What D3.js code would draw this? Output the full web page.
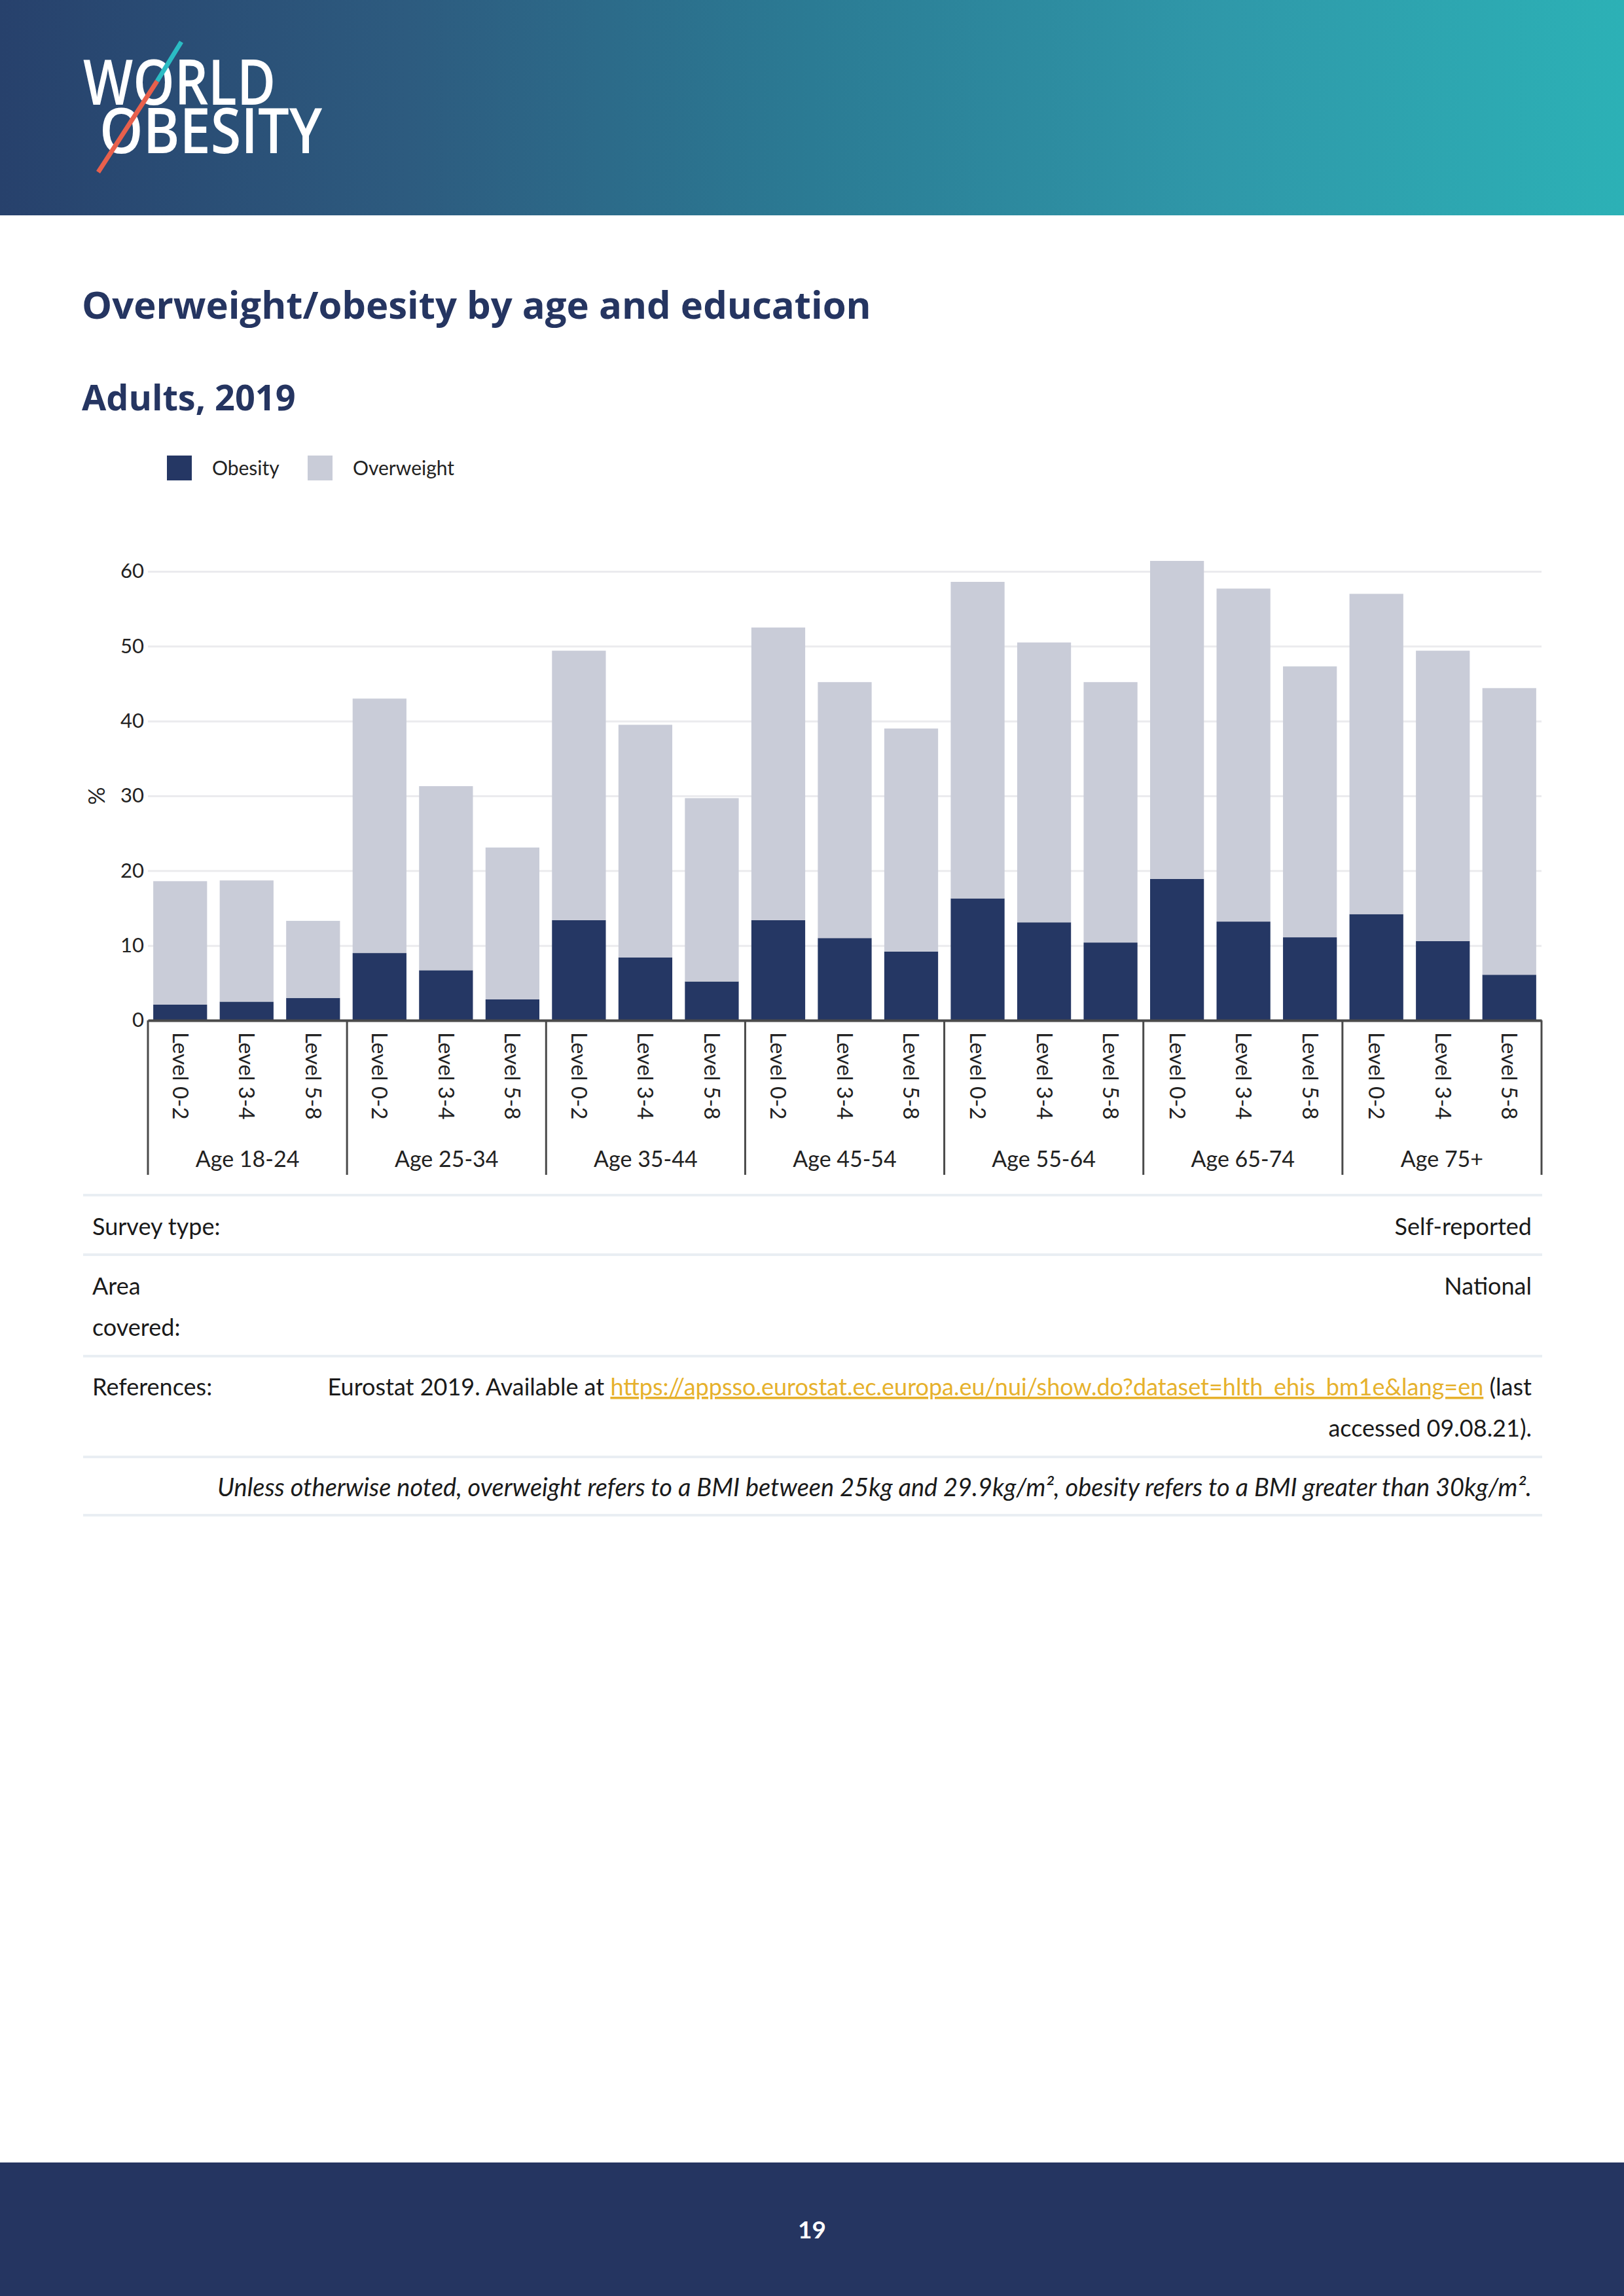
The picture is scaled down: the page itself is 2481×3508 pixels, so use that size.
<!DOCTYPE html>
<html>
<head>
<meta charset="utf-8">
<script src="https://d3js.org/d3.v7.min.js"></script>
<style>
  body { margin: 0; background: #fff; }
  svg { display: block; }
</style>
</head>
<body>
<div id="page"></div>
<script>
'use strict';

// chart data
const ageGroups = ['Age 18-24', 'Age 25-34', 'Age 35-44', 'Age 45-54', 'Age 55-64', 'Age 65-74', 'Age 75+'];
const levels = ['Level 0-2', 'Level 3-4', 'Level 5-8'];
const obesity = [2.1, 2.5, 3.0, 9.0, 6.7, 2.8, 13.4, 8.4, 5.2, 13.4, 11.0, 9.2, 16.3, 13.1, 10.4, 18.9, 13.2, 11.1, 14.2, 10.6, 6.1];
const overweight = [16.5, 16.2, 10.3, 34.0, 24.6, 20.3, 36.0, 31.1, 24.5, 39.1, 34.2, 29.8, 42.3, 37.4, 34.8, 42.5, 44.5, 36.2, 42.8, 38.8, 38.3];
const yTicks = [0, 10, 20, 30, 40, 50, 60];
const seriesNames = ['Obesity', 'Overweight'];

const W = 2481, H = 3508;
const navy = '#253764', grey = '#c9ccd8', axisCol = '#4a4a4a';
const bodyFont = 'Lato, "Open Sans", sans-serif';

const svg = d3.select('#page').append('svg')
  .attr('width', W)
  .attr('height', H);

// header band
const defs = svg.append('defs');
const grad = defs.append('linearGradient').attr('id', 'hdr').attr('x1', 0).attr('x2', 1).attr('y1', 0).attr('y2', 0);
[[0, '#27416c'], [0.25, '#2d5b7f'], [0.5, '#2b7b94'], [0.75, '#2f98a9'], [1, '#2cb1b6']]
  .forEach(s => grad.append('stop').attr('offset', s[0]).attr('stop-color', s[1]));
svg.append('rect').attr('width', W).attr('height', 329).attr('fill', 'url(#hdr)');

// logo (one text element, two lines)
const logo = svg.append('g');
const logoText = logo.append('text')
  .style('font', '600 96px "Open Sans", sans-serif').attr('fill', '#fff');
logoText.append('tspan').attr('x', 127).attr('y', 160)
  .attr('textLength', 294).attr('lengthAdjust', 'spacingAndGlyphs').text('WORLD');
logoText.append('tspan').attr('x', 152).attr('y', 234)
  .attr('textLength', 340).attr('lengthAdjust', 'spacingAndGlyphs').text('OBESITY');
logo.append('line').attr('x1', 277).attr('y1', 64).attr('x2', 240).attr('y2', 124)
  .attr('stroke', '#2bbcc4').attr('stroke-width', 7);
logo.append('line').attr('x1', 240).attr('y1', 124).attr('x2', 150).attr('y2', 263)
  .attr('stroke', '#e8604c').attr('stroke-width', 7);

// titles
svg.append('text').attr('x', 125).attr('y', 487)
  .style('font', 'bold 58px "Open Sans", sans-serif').attr('fill', '#253561')
  .text('Overweight/obesity by age and education');
svg.append('text').attr('x', 125).attr('y', 627)
  .style('font', 'bold 54px "Open Sans", sans-serif').attr('fill', '#253561')
  .text('Adults, 2019');

// legend
const legend = svg.append('g').attr('transform', 'translate(255,696)');
const legendX = [0, 215];
seriesNames.forEach((name, i) => {
  const g = legend.append('g').attr('transform', `translate(${legendX[i]},0)`);
  g.append('rect').attr('width', 38).attr('height', 38).attr('fill', i === 0 ? navy : grey);
  g.append('text').attr('x', 69).attr('y', 30)
    .style('font', `30px ${bodyFont}`).attr('fill', '#222').text(name);
});

// chart
const plotLeft = 226, plotRight = 2355, plotTop = 873, plotBottom = 1559;
const keys = [];
ageGroups.forEach(a => levels.forEach(l => keys.push(a + '|' + l)));
const rows = keys.map((k, i) => ({ key: k, Obesity: obesity[i], Overweight: overweight[i] }));

const x = d3.scaleBand().domain(keys).range([plotLeft, plotRight]).paddingInner(0.19).paddingOuter(0.08);
const y = d3.scaleLinear().domain([0, 60]).range([plotBottom, plotTop]);

const chart = svg.append('g');

// y grid + labels
const yAxis = d3.axisLeft(y).tickValues(yTicks).tickSize(-(plotRight - plotLeft)).tickPadding(6);
const ya = chart.append('g').attr('transform', `translate(${plotLeft},0)`).call(yAxis);
ya.select('.domain').remove();
ya.selectAll('.tick line').attr('stroke', '#ebebee').attr('stroke-width', 3);
ya.selectAll('.tick text').style('font', `31px ${bodyFont}`).attr('fill', '#222');

chart.append('text')
  .attr('transform', `translate(160,${(plotTop + plotBottom) / 2}) rotate(-90)`)
  .attr('text-anchor', 'middle')
  .style('font', `34px ${bodyFont}`).attr('fill', '#222').text('%');

// stacked bars
const stack = d3.stack().keys(seriesNames)(rows);
chart.selectAll('g.series').data(stack).enter().append('g')
  .attr('class', 'series')
  .attr('fill', (d, i) => i === 0 ? navy : grey)
  .selectAll('rect').data(d => d).enter().append('rect')
  .attr('x', d => x(d.data.key))
  .attr('width', x.bandwidth())
  .attr('y', d => y(d[1]))
  .attr('height', d => y(d[0]) - y(d[1]));

// x axis: level labels
const xAxis = d3.axisBottom(x).tickSize(0).tickFormat(k => k.split('|')[1]);
const xa = chart.append('g').attr('transform', `translate(0,${plotBottom})`).call(xAxis);
xa.select('.domain').attr('stroke', axisCol).attr('stroke-width', 4);
xa.selectAll('.tick text')
  .attr('transform', 'rotate(90)')
  .attr('x', 18).attr('y', 0).attr('dy', '0.35em')
  .attr('text-anchor', 'start')
  .style('font', `33px ${bodyFont}`).attr('fill', '#222');

// group separators and age labels
const xg = d3.scaleBand().domain(ageGroups).range([plotLeft, plotRight]);
const sepX = ageGroups.map(a => xg(a)).concat([plotRight]);
chart.selectAll('line.sep').data(sepX).enter().append('line')
  .attr('class', 'sep')
  .attr('x1', d => d).attr('x2', d => d)
  .attr('y1', plotBottom).attr('y2', 1795)
  .attr('stroke', axisCol).attr('stroke-width', 3);
chart.selectAll('text.age').data(ageGroups).enter().append('text')
  .attr('class', 'age')
  .attr('x', d => xg(d) + xg.bandwidth() / 2).attr('y', 1783)
  .attr('text-anchor', 'middle')
  .style('font', `34px ${bodyFont}`).attr('fill', '#222')
  .text(d => d);

// info table
const tLeft = 127, tRight = 2356;
const ruleY = [1826, 1917, 2072, 2226, 2315];
svg.selectAll('line.rule').data(ruleY).enter().append('line')
  .attr('class', 'rule')
  .attr('x1', tLeft).attr('x2', tRight).attr('y1', d => d).attr('y2', d => d)
  .attr('stroke', '#e9eef3').attr('stroke-width', 4);

const info = svg.append('g').style('font', `36px ${bodyFont}`).attr('fill', '#1a1a1a');
info.append('text').attr('x', 141).attr('y', 1887).text('Survey type:');
info.append('text').attr('x', 2340).attr('y', 1887).attr('text-anchor', 'end').text('Self-reported');
info.append('text').attr('x', 141).attr('y', 1978).text('Area');
info.append('text').attr('x', 141).attr('y', 2041).text('covered:');
info.append('text').attr('x', 2340).attr('y', 1978).attr('text-anchor', 'end').text('National');
info.append('text').attr('x', 141).attr('y', 2132).text('References:');
const ref = info.append('text').attr('x', 2340).attr('y', 2132).attr('text-anchor', 'end');
ref.append('tspan').text('Eurostat 2019. Available at ');
ref.append('tspan').attr('fill', '#e6b12c').style('text-decoration', 'underline')
  .text('https://appsso.eurostat.ec.europa.eu/nui/show.do?dataset=hlth_ehis_bm1e&lang=en');
ref.append('tspan').text(' (last');
info.append('text').attr('x', 2340).attr('y', 2195).attr('text-anchor', 'end').text('accessed 09.08.21).');
info.append('text').attr('x', 2340).attr('y', 2286).attr('text-anchor', 'end')
  .style('font-style', 'italic').style('font-size', '38px')
  .text('Unless otherwise noted, overweight refers to a BMI between 25kg and 29.9kg/m², obesity refers to a BMI greater than 30kg/m².');

// footer
svg.append('rect').attr('y', 3304).attr('width', W).attr('height', H - 3304).attr('fill', '#253561');
svg.append('text').attr('x', W / 2).attr('y', 3420).attr('text-anchor', 'middle')
  .style('font', 'bold 37px Lato, sans-serif').attr('fill', '#fff').text('19');
</script>
</body>
</html>
